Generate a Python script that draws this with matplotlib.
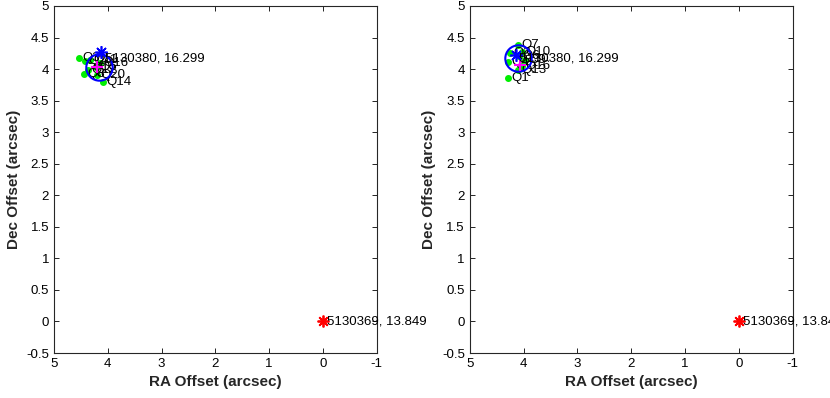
import matplotlib
matplotlib.use("Agg")
import matplotlib.pyplot as plt

plt.rcParams['font.family'] = ['Liberation Sans', 'DejaVu Sans']

# reference stars (RA offset, Dec offset)
ref_x = [4.12, 0.0]
ref_y = [4.27, 0.0]
ref_names = ["5130380, 16.299", "5130369, 13.849"]

# left panel
left_circ = (4.16, 4.04)
left_plus = (4.20, 4.03)
left_qx = [4.54, 4.42, 4.44, 4.09, 4.20, 4.22, 4.33, 4.37, 4.15]
left_qy = [4.18, 4.13, 3.92, 3.80, 3.91, 4.03, 4.14, 3.99, 4.10]
left_qn = ["Q3", "Q2", "Q8", "Q14", "Q20", "Q5", "Q11", "Q12", "Q16"]

# right panel
right_star = (4.15, 4.22)
right_circ = (4.11, 4.18)
right_plus = (4.07, 4.06)
right_qx = [4.29, 4.11, 4.26, 4.29, 4.11, 4.03, 3.98, 4.03, 4.08]
right_qy = [3.86, 4.38, 4.25, 4.11, 3.99, 4.05, 4.14, 4.27, 4.20]
right_qn = ["Q1", "Q7", "Q2", "Q4", "Q13", "Q16", "Q9", "Q10", "Q6"]

asterisk = (8, 2, 0)

fig = plt.figure(figsize=(8.3, 3.98), dpi=100)
ax1 = fig.add_axes([0.065, 0.113, 0.389, 0.872])
ax2 = fig.add_axes([0.566, 0.113, 0.389, 0.872])


def panel(ax, star, circ, plus, qx, qy, qn):
    ax.plot(qx, qy, 'o', color='#00ee00', ms=4, mec='#00ee00', zorder=2)
    for x, y, n in zip(qx, qy, qn):
        ax.annotate(n, (x, y), xytext=(2.5, 0), textcoords='offset points',
                    ha='left', va='center', fontsize=9.5, zorder=3)
    ax.plot(circ[0], circ[1], 'o', mfc='none', mec='blue', ms=19, mew=1.5, zorder=4)
    ax.plot(plus[0], plus[1], '+', color='magenta', ms=9, mew=1.5, zorder=4)
    ax.plot(star[0], star[1], marker=asterisk, color='blue', ms=9, mew=1.2, zorder=5)
    ax.text(star[0] - 0.07, 4.17, ref_names[0], ha='left', va='center', fontsize=9.5, zorder=6)
    ax.plot(ref_x[1], ref_y[1], marker=asterisk, color='red', ms=8.5, mew=1.3, zorder=5)
    ax.text(ref_x[1] - 0.07, ref_y[1], ref_names[1], ha='left', va='center',
            fontsize=9.5, zorder=6, clip_on=False)
    ax.set_xlim(5, -1)
    ax.set_ylim(-0.5, 5)
    ax.set_xticks([5, 4, 3, 2, 1, 0, -1])
    ax.set_xticklabels(['5', '4', '3', '2', '1', '0', '-1'])
    yt = [-0.5, 0, 0.5, 1, 1.5, 2, 2.5, 3, 3.5, 4, 4.5, 5]
    ax.set_yticks(yt)
    ax.set_yticklabels(['-0.5', '0', '0.5', '1', '1.5', '2', '2.5', '3', '3.5', '4', '4.5', '5'])
    ax.tick_params(direction='in', top=True, right=True, length=3.5, labelsize=9.5, width=0.6)
    for s in ax.spines.values():
        s.set_linewidth(0.8)
        s.set_color('#262626')
    ax.set_xlabel("RA Offset (arcsec)", fontsize=11, fontweight='bold', color='#262626')
    ax.set_ylabel("Dec Offset (arcsec)", fontsize=11, fontweight='bold', color='#262626')


panel(ax1, (ref_x[0], ref_y[0]), left_circ, left_plus, left_qx, left_qy, left_qn)
panel(ax2, right_star, right_circ, right_plus, right_qx, right_qy, right_qn)

fig.savefig("out.png", dpi=100)
